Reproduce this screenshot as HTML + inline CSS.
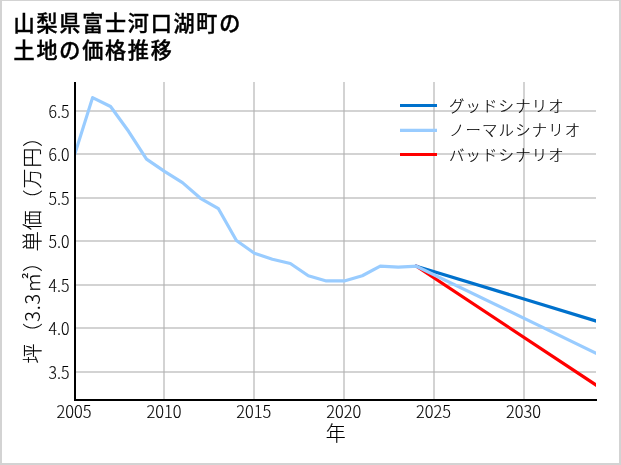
<!DOCTYPE html>
<html lang="ja"><head><meta charset="utf-8"><title>山梨県富士河口湖町の土地の価格推移</title>
<style>
html,body{margin:0;padding:0;background:#fff;}
body{width:621px;height:465px;overflow:hidden;position:relative;font-family:"Noto Sans CJK JP","Liberation Sans",sans-serif;}
.frame{position:absolute;left:0;top:0;width:621px;height:465px;box-sizing:border-box;border-style:solid;border-color:#d3d3d3;border-width:1px 2px 2px 2px;}
svg{position:absolute;left:0;top:0;}
.title{font-family:"Noto Sans CJK JP","Liberation Sans",sans-serif;font-weight:500;font-size:21.1px;letter-spacing:1.75px;fill:#000;stroke:#000;stroke-width:0.4px;}
.tick{font-family:"Noto Sans CJK JP","Liberation Sans",sans-serif;font-weight:300;font-size:16.7px;stroke:#000;stroke-width:0.12px;fill:#000;}
.lab{font-family:"Noto Sans CJK JP","Liberation Sans",sans-serif;font-weight:300;font-size:20px;letter-spacing:0.85px;stroke:#000;stroke-width:0.15px;fill:#000;}
.leg{font-family:"Noto Sans CJK JP","Liberation Sans",sans-serif;font-weight:300;font-size:15.4px;letter-spacing:1.15px;stroke:#000;stroke-width:0.15px;fill:#000;}
</style></head><body>
<svg width="621" height="465" viewBox="0 0 621 465">
<rect x="0" y="0" width="621" height="465" fill="#fff"/>
<g class="title"><text x="13.6" y="31">山梨県富士河口湖町の</text><text x="13.6" y="58.3">土地の価格推移</text></g>
<g stroke="#b0b0b0" stroke-opacity="0.56" stroke-width="2" fill="none" shape-rendering="crispEdges"><line x1="75" x2="596" y1="372" y2="372"/><line x1="75" x2="596" y1="328" y2="328"/><line x1="75" x2="596" y1="285" y2="285"/><line x1="75" x2="596" y1="241" y2="241"/><line x1="75" x2="596" y1="198" y2="198"/><line x1="75" x2="596" y1="154" y2="154"/><line x1="75" x2="596" y1="111" y2="111"/><line x1="164" x2="164" y1="82" y2="400"/><line x1="254" x2="254" y1="82" y2="400"/><line x1="344" x2="344" y1="82" y2="400"/><line x1="434" x2="434" y1="82" y2="400"/><line x1="524" x2="524" y1="82" y2="400"/></g>
<clipPath id="plot"><rect x="75" y="82" width="521" height="318"/></clipPath>
<g fill="none" stroke-width="3.2" stroke-linejoin="round" stroke-linecap="square" clip-path="url(#plot)">
<polyline stroke="#0071cc" points="416.21,266.16 604.99,323.71"/>
<polyline stroke="#ff0000" points="416.21,266.16 604.99,390.94"/>
<polyline stroke="#99ccff" points="74.60,154.80 92.58,97.64 110.56,106.52 128.54,131.31 146.52,159.15 164.50,171.33 182.48,182.64 200.46,198.30 218.43,208.74 236.41,240.50 254.39,253.28 272.37,259.20 290.35,263.55 308.33,275.73 326.31,280.95 344.29,280.95 362.27,275.73 380.25,266.16 398.23,267.03 416.21,266.16"/>
<polyline stroke="#99ccff" points="416.21,266.16 604.99,357.51"/>
</g>
<g stroke="#000" stroke-width="2" fill="none"><line x1="75" x2="75" y1="82" y2="401"/><line x1="74" x2="597" y1="400" y2="400"/></g>
<g class="tick"><text transform="translate(69.5,378.70) scale(0.95,1)" text-anchor="end">3.5</text><text transform="translate(69.5,335.20) scale(0.95,1)" text-anchor="end">4.0</text><text transform="translate(69.5,291.70) scale(0.95,1)" text-anchor="end">4.5</text><text transform="translate(69.5,248.20) scale(0.95,1)" text-anchor="end">5.0</text><text transform="translate(69.5,204.70) scale(0.95,1)" text-anchor="end">5.5</text><text transform="translate(69.5,161.20) scale(0.95,1)" text-anchor="end">6.0</text><text transform="translate(69.5,117.70) scale(0.95,1)" text-anchor="end">6.5</text><text transform="translate(74.00,417.8) scale(0.98,1)" text-anchor="middle">2005</text><text transform="translate(163.90,417.8) scale(0.98,1)" text-anchor="middle">2010</text><text transform="translate(253.79,417.8) scale(0.98,1)" text-anchor="middle">2015</text><text transform="translate(343.69,417.8) scale(0.98,1)" text-anchor="middle">2020</text><text transform="translate(433.59,417.8) scale(0.98,1)" text-anchor="middle">2025</text><text transform="translate(523.48,417.8) scale(0.98,1)" text-anchor="middle">2030</text></g>
<text class="lab" x="336.2" y="440.6" text-anchor="middle">年</text>
<text class="lab" transform="translate(39.8,244.8) rotate(-90)" text-anchor="middle">坪（3.3㎡）単価（万円）</text>
<g stroke-width="3.2" fill="none"><line x1="400" x2="437" y1="105.5" y2="105.5" stroke="#0071cc"/><line x1="400" x2="437" y1="130.4" y2="130.4" stroke="#99ccff"/><line x1="400" x2="437" y1="154.5" y2="154.5" stroke="#ff0000"/></g>
<g class="leg"><text x="449" y="111.5">グッドシナリオ</text><text x="449" y="136">ノーマルシナリオ</text><text x="449" y="160.5">バッドシナリオ</text></g>
</svg>
<div class="frame"></div>
</body></html>
